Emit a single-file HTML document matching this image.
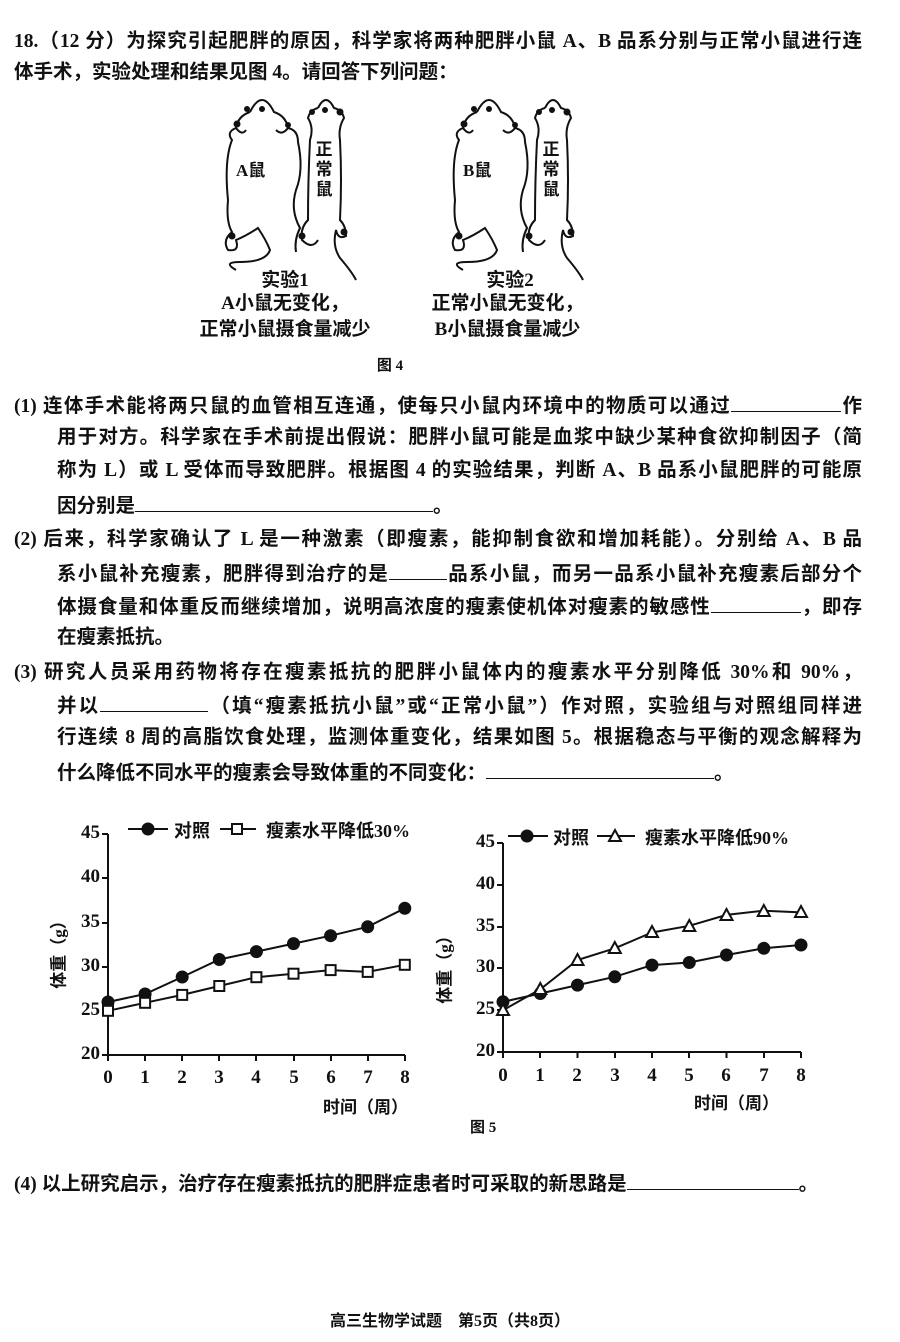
<!DOCTYPE html>
<html><head><meta charset="utf-8"><style>
html,body{margin:0;padding:0;background:#fff}
body{width:900px;height:1342px;position:relative;overflow:hidden;font-family:"Liberation Serif","Noto Sans CJK SC",sans-serif;color:#111;font-weight:600}
.l{position:absolute;font-size:19.5px;line-height:24px;white-space:nowrap}
.j{text-align:justify;text-align-last:justify;white-space:normal}
.u{display:inline-block;border-bottom:1.5px solid #111;height:18px;vertical-align:baseline}
.c{position:absolute;font-size:19px;text-align:center;white-space:nowrap}
svg{position:absolute;left:0;top:0}
</style></head><body>
<div class="l j" style="left:14px;top:30px;width:848px">18.（12 分）为探究引起肥胖的原因，科学家将两种肥胖小鼠 A、B 品系分别与正常小鼠进行连</div>
<div class="l" style="left:14px;top:61px">体手术，实验处理和结果见图 4。请回答下列问题：</div>

<svg width="900" height="1342" viewBox="0 0 900 1342" fill="none" stroke="#111" stroke-width="2">
<g id="rats">
<!-- big rat -->
<path d="M250 112 Q262 88 274 112 Q286 116 288 128 Q282 136 276 130 M250 112 Q238 116 236 128 Q242 136 246 130"/>
<path d="M236 128 Q226 132 232 140 Q224 160 228 200 Q226 222 232 232 Q222 240 228 250 Q240 252 236 240 Q246 236 258 228 Q266 240 270 250 Q266 262 240 262 Q222 262 236 270"/>
<path d="M288 128 Q298 130 298 142 Q304 170 296 190 Q290 210 300 228 Q294 240 296 252"/>
<!-- normal rat -->
<path d="M318 108 Q326 92 334 108 Q342 110 344 118 Q338 128 340 140 Q342 180 340 220 Q346 226 346 236 Q338 240 336 230 Q332 246 340 258 Q352 272 356 280"/>
<path d="M318 108 Q310 110 308 118 Q314 128 310 140 Q308 180 308 220 Q300 228 302 240 Q312 250 318 240"/>
<g fill="#111" stroke="none">
<circle cx="247" cy="109" r="3"/><circle cx="262" cy="109" r="3"/><circle cx="237" cy="124" r="3.5"/><circle cx="288" cy="125" r="3"/>
<circle cx="312" cy="112" r="3"/><circle cx="325" cy="110" r="3"/><circle cx="340" cy="112" r="3.5"/>
<circle cx="232" cy="236" r="3.5"/><circle cx="302" cy="236" r="3.5"/><circle cx="344" cy="232" r="3.5"/>
</g>
</g>
<use href="#rats" x="227" y="0"/>
<!-- chart 1 -->
<g stroke-width="2">
<path d="M108 834 V1055 H405"/>
<path d="M102 834h6M102 878h6M102 923h6M102 967h6M102 1011h6M102 1055h6"/>
<path d="M108 1055v6M145 1055v6M182 1055v6M219 1055v6M256 1055v6M294 1055v6M331 1055v6M368 1055v6M405 1055v6"/>
<polyline points="108,1002 145.1,994 182.2,977 219.3,959.5 256.4,951.6 293.5,943.6 330.6,935.7 367.7,926.8 404.8,908.3"/>
<polyline points="108,1010.8 145.1,1002.8 182.2,994.9 219.3,986 256.4,977.2 293.5,973.7 330.6,970.1 367.7,971.9 404.8,964.8"/>
<g fill="#111"><circle cx="108" cy="1002" r="5.5"/><circle cx="145.1" cy="994" r="5.5"/><circle cx="182.2" cy="977" r="5.5"/><circle cx="219.3" cy="959.5" r="5.5"/><circle cx="256.4" cy="951.6" r="5.5"/><circle cx="293.5" cy="943.6" r="5.5"/><circle cx="330.6" cy="935.7" r="5.5"/><circle cx="367.7" cy="926.8" r="5.5"/><circle cx="404.8" cy="908.3" r="5.5"/></g>
<g fill="#fff"><rect x="103" y="1005.8" width="10" height="10"/><rect x="140.1" y="997.8" width="10" height="10"/><rect x="177.2" y="989.9" width="10" height="10"/><rect x="214.3" y="981" width="10" height="10"/><rect x="251.4" y="972.2" width="10" height="10"/><rect x="288.5" y="968.7" width="10" height="10"/><rect x="325.6" y="965.1" width="10" height="10"/><rect x="362.7" y="966.9" width="10" height="10"/><rect x="399.8" y="959.8" width="10" height="10"/></g>
<path d="M128 829h40M220 829h36"/><circle cx="148" cy="829" r="5.5" fill="#111"/><rect x="232" y="824" width="10" height="10" fill="#fff"/>
</g>
<!-- chart 2 -->
<g stroke-width="2">
<path d="M503 843 V1052 H801"/>
<path d="M497 843h6M497 885h6M497 927h6M497 968h6M497 1010h6M497 1052h6"/>
<path d="M503 1052v6M540 1052v6M577.5 1052v6M615 1052v6M652 1052v6M689 1052v6M726.5 1052v6M764 1052v6M801 1052v6"/>
<polyline points="503,1001.8 540.3,993.5 577.5,985.1 614.8,976.8 652,965.1 689.3,962.5 726.5,955 763.8,948.3 801,945"/>
<polyline points="503,1010.2 540.3,989.3 577.5,960 614.8,948.3 652,932.5 689.3,925.8 726.5,914.9 763.8,910.7 801,912.4"/>
<g fill="#111"><circle cx="503" cy="1001.8" r="5.5"/><circle cx="540.3" cy="993.5" r="5.5"/><circle cx="577.5" cy="985.1" r="5.5"/><circle cx="614.8" cy="976.8" r="5.5"/><circle cx="652" cy="965.1" r="5.5"/><circle cx="689.3" cy="962.5" r="5.5"/><circle cx="726.5" cy="955" r="5.5"/><circle cx="763.8" cy="948.3" r="5.5"/><circle cx="801" cy="945" r="5.5"/></g>
<g fill="#fff">
<path d="M503 1004 l6 11 h-12z"/><path d="M540.3 983 l6 11 h-12z"/><path d="M577.5 954 l6 11 h-12z"/><path d="M614.8 942 l6 11 h-12z"/><path d="M652 926 l6 11 h-12z"/><path d="M689.3 920 l6 11 h-12z"/><path d="M726.5 909 l6 11 h-12z"/><path d="M763.8 905 l6 11 h-12z"/><path d="M801 906 l6 11 h-12z"/>
</g>
<path d="M508 836h40M597 836h38"/><circle cx="527" cy="836" r="5.5" fill="#111"/><path d="M615 830 l6 11 h-12z" fill="#fff"/>
</g>
</svg>

<div class="c" style="left:236px;top:156px;font-size:17px">A鼠</div>
<div class="c" style="left:314px;top:140px;font-size:17px;line-height:20px;width:20px;white-space:normal">正常鼠</div>
<div class="c" style="left:463px;top:156px;font-size:17px">B鼠</div>
<div class="c" style="left:541px;top:140px;font-size:17px;line-height:20px;width:20px;white-space:normal">正常鼠</div>
<div class="c" style="left:240px;top:265px;width:90px">实验1</div>
<div class="c" style="left:190px;top:291px;width:190px;line-height:26px;white-space:normal">A小鼠无变化，<br>正常小鼠摄食量减少</div>
<div class="c" style="left:465px;top:265px;width:90px">实验2</div>
<div class="c" style="left:420px;top:291px;width:175px;line-height:26px;white-space:normal">正常小鼠无变化，<br>B小鼠摄食量减少</div>
<div class="c" style="left:370px;top:354px;width:40px;font-size:15px">图 4</div>

<div class="l j" style="left:14px;top:393px;width:848px">(1) 连体手术能将两只鼠的血管相互连通，使每只小鼠内环境中的物质可以通过<span class="u" style="width:110px"></span>作</div>
<div class="l j" style="left:57px;top:426px;width:805px">用于对方。科学家在手术前提出假说：肥胖小鼠可能是血浆中缺少某种食欲抑制因子（简</div>
<div class="l j" style="left:57px;top:459px;width:805px">称为 L）或 L 受体而导致肥胖。根据图 4 的实验结果，判断 A、B 品系小鼠肥胖的可能原</div>
<div class="l" style="left:57px;top:493px">因分别是<span class="u" style="width:298px"></span>。</div>
<div class="l j" style="left:14px;top:528px;width:848px">(2) 后来，科学家确认了 L 是一种激素（即瘦素，能抑制食欲和增加耗能）。分别给 A、B 品</div>
<div class="l j" style="left:57px;top:561px;width:805px">系小鼠补充瘦素，肥胖得到治疗的是<span class="u" style="width:58px"></span>品系小鼠，而另一品系小鼠补充瘦素后部分个</div>
<div class="l j" style="left:57px;top:594px;width:805px">体摄食量和体重反而继续增加，说明高浓度的瘦素使机体对瘦素的敏感性<span class="u" style="width:90px"></span>，即存</div>
<div class="l" style="left:57px;top:626px">在瘦素抵抗。</div>
<div class="l j" style="left:14px;top:661px;width:848px">(3) 研究人员采用药物将存在瘦素抵抗的肥胖小鼠体内的瘦素水平分别降低 30%和 90%，</div>
<div class="l j" style="left:57px;top:693px;width:805px">并以<span class="u" style="width:108px"></span>（填“瘦素抵抗小鼠”或“正常小鼠”）作对照，实验组与对照组同样进</div>
<div class="l j" style="left:57px;top:726px;width:805px">行连续 8 周的高脂饮食处理，监测体重变化，结果如图 5。根据稳态与平衡的观念解释为</div>
<div class="l" style="left:57px;top:760px">什么降低不同水平的瘦素会导致体重的不同变化：<span class="u" style="width:228px"></span>。</div>

<div class="c" style="left:70px;top:822px;width:30px;text-align:right">45</div>
<div class="c" style="left:70px;top:866px;width:30px;text-align:right">40</div>
<div class="c" style="left:70px;top:911px;width:30px;text-align:right">35</div>
<div class="c" style="left:70px;top:955px;width:30px;text-align:right">30</div>
<div class="c" style="left:70px;top:999px;width:30px;text-align:right">25</div>
<div class="c" style="left:70px;top:1043px;width:30px;text-align:right">20</div>
<div class="c" style="left:98px;top:1067px;width:20px">0</div><div class="c" style="left:135px;top:1067px;width:20px">1</div><div class="c" style="left:172px;top:1067px;width:20px">2</div><div class="c" style="left:209px;top:1067px;width:20px">3</div><div class="c" style="left:246px;top:1067px;width:20px">4</div><div class="c" style="left:284px;top:1067px;width:20px">5</div><div class="c" style="left:321px;top:1067px;width:20px">6</div><div class="c" style="left:358px;top:1067px;width:20px">7</div><div class="c" style="left:395px;top:1067px;width:20px">8</div>
<div class="c" style="left:323px;top:1093px;font-size:17px">时间（周）</div>
<div class="c" style="left:12px;top:938px;font-size:17px;transform:rotate(-90deg);width:90px">体重（g）</div>
<div class="c" style="left:174px;top:817px;font-size:18px">对照</div>
<div class="c" style="left:266px;top:817px;font-size:18px">瘦素水平降低30%</div>

<div class="c" style="left:465px;top:831px;width:30px;text-align:right">45</div>
<div class="c" style="left:465px;top:873px;width:30px;text-align:right">40</div>
<div class="c" style="left:465px;top:915px;width:30px;text-align:right">35</div>
<div class="c" style="left:465px;top:956px;width:30px;text-align:right">30</div>
<div class="c" style="left:465px;top:998px;width:30px;text-align:right">25</div>
<div class="c" style="left:465px;top:1040px;width:30px;text-align:right">20</div>
<div class="c" style="left:493px;top:1065px;width:20px">0</div><div class="c" style="left:530px;top:1065px;width:20px">1</div><div class="c" style="left:567px;top:1065px;width:20px">2</div><div class="c" style="left:605px;top:1065px;width:20px">3</div><div class="c" style="left:642px;top:1065px;width:20px">4</div><div class="c" style="left:679px;top:1065px;width:20px">5</div><div class="c" style="left:716px;top:1065px;width:20px">6</div><div class="c" style="left:754px;top:1065px;width:20px">7</div><div class="c" style="left:791px;top:1065px;width:20px">8</div>
<div class="c" style="left:694px;top:1089px;font-size:17px">时间（周）</div>
<div class="c" style="left:398px;top:953px;font-size:17px;transform:rotate(-90deg);width:90px">体重（g）</div>
<div class="c" style="left:553px;top:824px;font-size:18px">对照</div>
<div class="c" style="left:645px;top:824px;font-size:18px">瘦素水平降低90%</div>
<div class="c" style="left:470px;top:1116px;font-size:15px">图 5</div>

<div class="l" style="left:14px;top:1171px">(4) 以上研究启示，治疗存在瘦素抵抗的肥胖症患者时可采取的新思路是<span class="u" style="width:172px"></span>。</div>
<div class="c" style="left:300px;top:1307px;width:300px;font-size:16px">高三生物学试题　第5页（共8页）</div>
</body></html>
